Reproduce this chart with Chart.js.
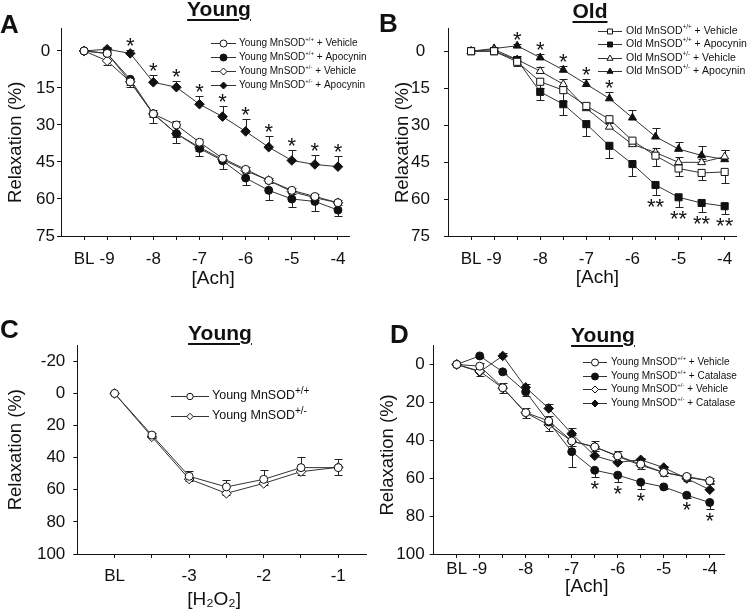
<!DOCTYPE html>
<html>
<head>
<meta charset="utf-8">
<script src="https://cdn.jsdelivr.net/npm/chart.js@4.4.1/dist/chart.umd.min.js"></script>
<style>
  html, body { margin: 0; padding: 0; background: #fff; }
  #fig { position: relative; width: 748px; height: 612px; font-family: "Liberation Sans", Arial, sans-serif; color: #111; }
  canvas { position: absolute; }
  .letter { position: absolute; font-weight: bold; font-size: 26px; line-height: 26px; }
  .title { position: absolute; font-weight: bold; font-size: 21px; line-height: 21px; white-space: nowrap;
           text-decoration: underline; text-decoration-thickness: 2px; text-underline-offset: 3px; transform: translateX(-50%); }
</style>
</head>
<body>
<div id="fig">
  <canvas id="cA" width="374" height="306" style="left:0;top:0"></canvas>
  <canvas id="cB" width="374" height="306" style="left:374px;top:0"></canvas>
  <canvas id="cC" width="374" height="306" style="left:0;top:306px"></canvas>
  <canvas id="cD" width="374" height="306" style="left:374px;top:306px"></canvas>
  <div class="letter" style="left:0;top:11px">A</div>
  <div class="letter" style="left:379px;top:10px">B</div>
  <div class="letter" style="left:0;top:316px">C</div>
  <div class="letter" style="left:390px;top:321px">D</div>
  <div class="title" style="left:219px;top:-2px">Young</div>
  <div class="title" style="left:590px;top:0">Old</div>
  <div class="title" style="left:220px;top:322px">Young</div>
  <div class="title" style="left:603px;top:324px">Young</div>
</div>
<script>
// x positions (log concentration); BL is drawn one step left of the first dose
const achConc = [-9.5, -9, -8.5, -8, -7.5, -7, -6.5, -6, -5.5, -5, -4.5, -4];
const achLabels = ['BL', '-9', '', '-8', '', '-7', '', '-6', '', '-5', '', '-4'];
const h2o2Conc = [-4, -3.5, -3, -2.5, -2, -1.5, -1];
const h2o2Labels = ['BL', '', '-3', '', '-2', '', '-1'];

const ticksA = [0, 15, 30, 45, 60, 75];
const ticksC = [-20, 0, 20, 40, 60, 80, 100];
const ticksD = [0, 20, 40, 60, 80, 100];

// A - young, apocynin
const aWtVeh = [0, 1, 12.5, 25.5, 30, 37, 43.5, 48, 52.5, 56.5, 59, 61.5];
const aWtVehErr = [0, 1, 1.5, 1.5, 1.5, 1.5, 1.5, 1, 1, 1, 1, 1];
const aWtApo = [0, 1, 11.5, 25.5, 33.5, 39.5, 44.5, 51.5, 56.5, 60, 61, 64.5];
const aWtApoErr = [0, 0.8, 3, 3.5, 3.8, 3.2, 3.5, 3, 3.8, 3.2, 3.8, 2.4];
const aHetVeh = [0, 4, 12.5, 25.5, 33.5, 39, 44, 48.5, 52.5, 57, 59.5, 61.5];
const aHetVehErr = [0, 1.7, 1.5, 1.2, 1.5, 1.5, 1.5, 1, 1, 1, 1, 1];
const aHetApo = [0, -0.7, 1, 12.7, 14.7, 21.6, 26.6, 32.6, 39, 44.4, 46, 46.9];
const aHetApoErr = [0, 1, 1.3, 2.8, 2.6, 3.5, 4.3, 5, 4.6, 4.2, 3.8, 4.3];
const aStarAt = [-8.5, -8, -7.5, -7, -6.5, -6, -5.5, -5, -4.5, -4];

// B - old, apocynin
const bWtVeh = [0, 0, 4.3, 12.4, 15.8, 22.2, 27.6, 36.3, 42.4, 47.6, 49.4, 49];
const bWtVehErr = [0, 0.5, 1.5, 2.5, 4.5, 1.5, 1.5, 1.5, 4, 3, 3, 4.5];
const bWtApo = [0, 0, 3.6, 16.5, 21.5, 29.6, 38.4, 45.8, 54.3, 59.3, 61.6, 62.9];
const bWtApoErr = [0, 0.5, 1.5, 3.5, 4.5, 5, 5, 5, 4, 3.8, 3.5, 3.3];
const bHetVeh = [0, -0.7, 3.4, 8.1, 13.4, 23.2, 30.7, 37.8, 41.1, 45.1, 45.1, 42.8];
const bHetVehErr = [0, 0.5, 1.5, 1.5, 2, 2, 1.5, 1.5, 2, 2, 1.5, 2.8];
const bHetApo = [0, -1.1, -2.2, 2.6, 7.6, 13.4, 19.2, 27, 34.7, 39.7, 42.3, 43.9];
const bHetApoErr = [0, 0.5, 0.6, 1.5, 1.7, 2.2, 2.7, 3, 3.4, 3, 3.8, 4];
const bStarAt = [-8.5, -8, -7.5, -7, -6.5];
const bDblStarAt = [-5.5, -5, -4.5, -4];

// C - young, H2O2
const cWt = [0, 25.9, 51.6, 58.2, 53.5, 46.2, 46.2];
const cWtErr = [0, 1, 3, 4, 6, 6.5, 5.5];
const cHet = [0, 27, 53.3, 62.2, 56, 48.7, 46];
const cHetErr = [0, 1, 1.5, 1, 1, 2, 5];

// D - young, catalase
const dWtVeh = [0, 0.9, 12.3, 25.4, 29.8, 40.4, 43.5, 48.2, 52.6, 57, 59.1, 61.4];
const dWtVehErr = [0, 1.5, 2.5, 2.5, 2.5, 3, 3, 2.5, 2.5, 2, 1.5, 1.5];
const dWtCat = [0, -4.5, 3.9, 14.4, 30.4, 46, 55.8, 58.4, 62.1, 64.6, 69, 72.8];
const dWtCatErr = [0, 0.5, 1, 2, 2, 8, 3.5, 3.5, 3.5, 1, 1.5, 3.5];
const dHetVeh = [0, 3.5, 12.5, 25.5, 31.9, 40.5, 43.5, 48.5, 53.2, 57, 59.5, 61.5];
const dHetVehErr = [0, 2.5, 2.5, 2.5, 3, 2.5, 2, 2.5, 2, 2, 2, 1.5];
const dHetCat = [0, 3.9, -4.5, 12.1, 23.2, 36.5, 48.2, 51.7, 50.3, 54.4, 60.2, 66.1];
const dHetCatErr = [0, 1, 1.5, 2, 2.5, 3.2, 3.5, 3.5, 1, 1, 2, 3.5];
const dStarAt = [-6.5, -6, -5.5, -4.5, -4];

const FONT = '"Liberation Sans", Arial, sans-serif';
Chart.defaults.font.family = FONT;
Chart.defaults.color = '#111';

const MK = {
  oCircle:  { shape: 'circle',   r: 4,   fill: '#fff' },
  fCircle:  { shape: 'circle',   r: 4,   fill: '#111' },
  oDiamond: { shape: 'rectRot',  r: 4.8, fill: '#fff' },
  fDiamond: { shape: 'rectRot',  r: 4.8, fill: '#111' },
  oSquare:  { shape: 'rect',     r: 5,   fill: '#fff' },
  fSquare:  { shape: 'rect',     r: 5,   fill: '#111' },
  oTri:     { shape: 'triangle', r: 4.6, fill: '#fff' },
  fTri:     { shape: 'triangle', r: 4.6, fill: '#111' }
};

function series(label, xs, ys, err, dir, mk) {
  return {
    label: label,
    data: xs.map((x, i) => ({ x: x, y: ys[i] })),
    err: err, errDir: dir,
    borderColor: '#333', borderWidth: 1, fill: false, tension: 0,
    pointStyle: mk.shape, pointRadius: mk.r, pointHoverRadius: mk.r,
    pointBackgroundColor: mk.fill, pointBorderColor: '#111', pointBorderWidth: 1
  };
}

// error bars, stars and the legend with superscripts
const extras = {
  id: 'extras',
  beforeDatasetsDraw(chart) {
    const ctx = chart.ctx, xs = chart.scales.x, ys = chart.scales.y;
    ctx.save();
    ctx.strokeStyle = '#222';
    ctx.lineWidth = 1;
    chart.data.datasets.forEach(ds => {
      ds.data.forEach((p, i) => {
        const e = ds.err[i];
        if (!e) return;
        const px = Math.round(xs.getPixelForValue(p.x)) + 0.5;
        const ends = ds.errDir === 0 ? [p.y - e, p.y + e] : [p.y + ds.errDir * e];
        ends.forEach(v => {
          const y0 = ys.getPixelForValue(p.y);
          const y1 = Math.round(ys.getPixelForValue(v)) + 0.5;
          ctx.beginPath();
          ctx.moveTo(px, y0); ctx.lineTo(px, y1);
          ctx.moveTo(px - 4, y1); ctx.lineTo(px + 4, y1);
          ctx.stroke();
        });
      });
    });
    ctx.restore();
  },
  afterDatasetsDraw(chart, args, opts) {
    const ctx = chart.ctx, xs = chart.scales.x, ys = chart.scales.y;
    ctx.save();
    ctx.fillStyle = '#111';
    ctx.textAlign = 'center';
    ctx.textBaseline = 'middle';
    ctx.font = '22px ' + FONT;
    (opts.stars || []).forEach(st => {
      const ds = chart.data.datasets[st.ds];
      st.at.forEach(xv => {
        const i = ds.data.findIndex(p => p.x === xv);
        const p = ds.data[i];
        const e = ds.err[i] || 0;
        let endV;
        if (st.side < 0) endV = Math.min(p.y, ds.errDir <= 0 ? p.y - e : p.y);
        else endV = Math.max(p.y, ds.errDir >= 0 ? p.y + e : p.y);
        const cy = ys.getPixelForValue(endV) + st.side * 8;
        ctx.fillText(st.text, xs.getPixelForValue(p.x), cy + 5);
      });
    });
    ctx.restore();

    const lg = opts.legend;
    chart.data.datasets.forEach((ds, i) => {
      const y = lg.ys[i];
      ctx.save();
      ctx.strokeStyle = '#333';
      ctx.lineWidth = 1;
      ctx.beginPath();
      ctx.moveTo(lg.x0, Math.round(y) + 0.5);
      ctx.lineTo(lg.x1, Math.round(y) + 0.5);
      ctx.stroke();
      ctx.fillStyle = ds.pointBackgroundColor;
      ctx.strokeStyle = '#111';
      Chart.helpers.drawPoint(ctx, { pointStyle: ds.pointStyle, radius: lg.r, rotation: 0, borderWidth: 1 },
        (lg.x0 + lg.x1) / 2, Math.round(y) + 0.5);
      const k = ds.label.indexOf('MnSOD') + 5;
      const parts = [
        [ds.label.slice(0, k), lg.size, 0],
        [ds.label.slice(k, k + 3), lg.size * lg.supScale, -lg.size * 0.4],
        [ds.label.slice(k + 3), lg.size, 0]
      ];
      let x = lg.tx;
      ctx.fillStyle = '#111';
      ctx.textAlign = 'left';
      ctx.textBaseline = 'middle';
      parts.forEach(([t, s, dy]) => {
        ctx.font = s + 'px ' + FONT;
        ctx.fillText(t, x, y + dy);
        x += ctx.measureText(t).width;
      });
      ctx.restore();
    });
  }
};

function panel(id, c) {
  new Chart(document.getElementById(id), {
    type: 'line',
    data: { datasets: c.datasets },
    options: {
      responsive: false,
      animation: false,
      events: [],
      layout: { padding: { left: 0, top: c.top, right: c.right, bottom: 0 } },
      plugins: {
        legend: { display: false },
        tooltip: { enabled: false },
        extras: { legend: c.legend, stars: c.stars }
      },
      scales: {
        x: {
          type: 'linear', min: c.xMin, max: c.xMax,
          afterBuildTicks: s => { s.ticks = c.xTicks.map(v => ({ value: v })); },
          afterFit: s => { s.height = 306 - c.bottom; },
          grid: { drawOnChartArea: false, drawTicks: true, tickLength: 4, tickColor: '#111', tickWidth: 1 },
          border: { display: true, color: '#111', width: 1 },
          ticks: { autoSkip: false, maxRotation: 0, padding: c.xPad, color: '#111', font: { size: 17 },
                   callback: (v, i) => c.xLabels[i] },
          title: { display: true, text: c.xTitle, color: '#111', font: { size: 19 },
                   padding: { top: 0, bottom: c.xTitlePad } }
        },
        y: {
          type: 'linear', reverse: true, min: c.yMin, max: c.yMax,
          afterBuildTicks: s => { s.ticks = c.yTicks.map(v => ({ value: v })); },
          afterFit: s => { s.width = c.left; },
          grid: { drawOnChartArea: false, drawTicks: true, tickLength: 4, tickColor: '#111', tickWidth: 1 },
          border: { display: true, color: '#111', width: 1 },
          ticks: { padding: c.yPad, crossAlign: c.yAlign, color: '#111', font: { size: 17 } },
          title: { display: true, text: c.yTitle, color: '#111', font: { size: 18.5 },
                   padding: { top: c.yTitlePad, bottom: 0 } }
        }
      }
    },
    plugins: [extras]
  });
}

panel('cA', {
  datasets: [
    series('Young MnSOD+/+ + Vehicle', achConc, aWtVeh, aWtVehErr, -1, MK.oCircle),
    series('Young MnSOD+/+ + Apocynin', achConc, aWtApo, aWtApoErr, 1, MK.fCircle),
    series('Young MnSOD+/- + Vehicle', achConc, aHetVeh, aHetVehErr, 1, MK.oDiamond),
    series('Young MnSOD+/- + Apocynin', achConc, aHetApo, aHetApoErr, -1, MK.fDiamond)
  ],
  left: 61, top: 28, right: 24.5, bottom: 236,
  xMin: -10, xMax: -3.75, xTicks: achConc, xLabels: achLabels, xPad: 9, xTitle: '   [Ach]', xTitlePad: 16,
  yMin: -9.3, yMax: 75, yTicks: ticksA, yPad: 2, yAlign: 'center', yTitle: 'Relaxation (%)    ', yTitlePad: 5,
  legend: { x0: 211, x1: 236, tx: 239, ys: [43.3, 57.3, 71.3, 85], size: 10, supScale: 0.6, r: 3.5 },
  stars: [{ ds: 3, at: aStarAt, text: '*', side: -1 }]
});

panel('cB', {
  datasets: [
    series('Old MnSOD+/+ + Vehicle', achConc, bWtVeh, bWtVehErr, 1, MK.oSquare),
    series('Old MnSOD+/+ + Apocynin', achConc, bWtApo, bWtApoErr, 1, MK.fSquare),
    series('Old MnSOD+/- + Vehicle', achConc, bHetVeh, bHetVehErr, -1, MK.oTri),
    series('Old MnSOD+/- + Apocynin', achConc, bHetApo, bHetApoErr, -1, MK.fTri)
  ],
  left: 74, top: 28.3, right: 11.8, bottom: 236,
  xMin: -10, xMax: -3.75, xTicks: achConc, xLabels: achLabels, xPad: 9, xTitle: '  [Ach]', xTitlePad: 17,
  yMin: -9.3, yMax: 75, yTicks: ticksA, yPad: 14, yAlign: 'center', yTitle: 'Relaxation (%)    ', yTitlePad: 18,
  legend: { x0: 224, x1: 248, tx: 252, ys: [31, 44.3, 58, 71.3], size: 10.5, supScale: 0.6, r: 3.5 },
  stars: [{ ds: 3, at: bStarAt, text: '*', side: -1 }, { ds: 1, at: bDblStarAt, text: '**', side: 1 }]
});

panel('cC', {
  datasets: [
    series('Young MnSOD+/+', h2o2Conc, cWt, cWtErr, -1, MK.oCircle),
    series('Young MnSOD+/-', h2o2Conc, cHet, cHetErr, 1, MK.oDiamond)
  ],
  left: 77.3, top: 39.3, right: 7.4, bottom: 248,
  xMin: -4.5, xMax: -0.62, xTicks: h2o2Conc, xLabels: h2o2Labels, xPad: 8, xTitle: '[H\u2082O\u2082]   ', xTitlePad: 1,
  yMin: -30, yMax: 100, yTicks: ticksC, yPad: 8, yAlign: 'near', yTitle: 'Relaxation (%)', yTitlePad: 5,
  legend: { x0: 171, x1: 209, tx: 212, ys: [90, 110], size: 12.5, supScale: 0.8, r: 3.2 },
  stars: []
});

panel('cD', {
  datasets: [
    series('Young MnSOD+/+ + Vehicle', achConc, dWtVeh, dWtVehErr, -1, MK.oCircle),
    series('Young MnSOD+/+ + Catalase', achConc, dWtCat, dWtCatErr, 1, MK.fCircle),
    series('Young MnSOD+/- + Vehicle', achConc, dHetVeh, dHetVehErr, 1, MK.oDiamond),
    series('Young MnSOD+/- + Catalase', achConc, dHetCat, dHetCatErr, -1, MK.fDiamond)
  ],
  left: 59.7, top: 39.5, right: 24, bottom: 248,
  xMin: -10, xMax: -3.69, xTicks: achConc, xLabels: achLabels, xPad: 1, xTitle: '   [Ach]', xTitlePad: 14,
  yMin: -10, yMax: 100, yTicks: ticksD, yPad: 5, yAlign: 'near', yTitle: 'Relaxation (%)  ', yTitlePad: 3,
  legend: { x0: 209, x1: 233, tx: 237, ys: [56, 70.3, 83.3, 97.3], size: 10, supScale: 0.6, r: 3.5 },
  stars: [{ ds: 1, at: dStarAt, text: '*', side: 1 }]
});
</script>
</body>
</html>
